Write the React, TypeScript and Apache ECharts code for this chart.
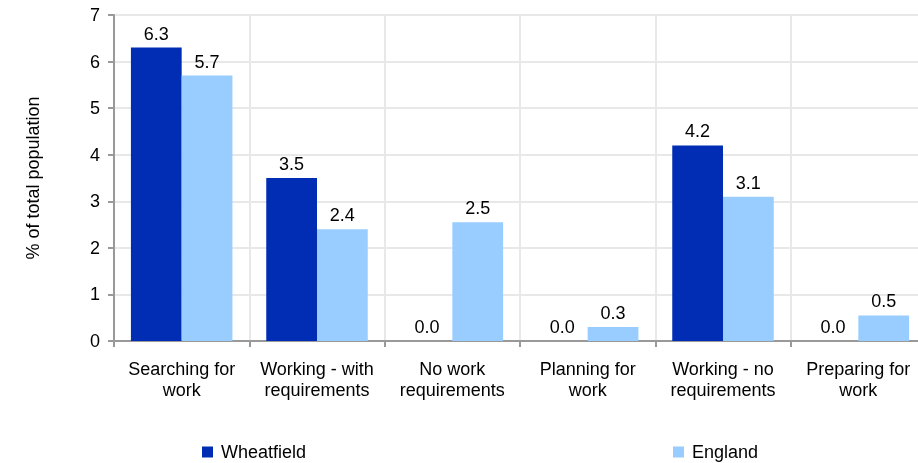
import React, { useEffect, useRef } from "react";
import * as echarts from "echarts";

const categories = [
  "Searching for\nwork",
  "Working - with\nrequirements",
  "No work\nrequirements",
  "Planning for\nwork",
  "Working - no\nrequirements",
  "Preparing for\nwork",
];
const wheatfield = [6.3, 3.5, 0.0, 0.0, 4.2, 0.0];
const england = [5.7, 2.4, 2.55, 0.3, 3.1, 0.55];
const englandLabels = [5.7, 2.4, 2.5, 0.3, 3.1, 0.5];

const FONT = "'Liberation Sans', Arial, sans-serif";
const FS = 18;

export default function App() {
  const ref = useRef<HTMLDivElement>(null);
  useEffect(() => {
    if (!ref.current) return;
    const chart = echarts.init(ref.current, null, { renderer: "svg" });
    chart.setOption({
      animation: false,
      textStyle: { fontFamily: FONT },
      legend: [
        {
          data: ["Wheatfield"],
          left: 202,
          top: 443,
          padding: 0,
          itemWidth: 11,
          itemHeight: 11,
          icon: "rect",
          itemGap: 0,
          textStyle: { fontFamily: FONT, fontSize: FS, color: "#000", padding: [0, 0, 0, 3] },
        },
        {
          data: ["England"],
          left: 673,
          top: 443,
          padding: 0,
          itemWidth: 11,
          itemHeight: 11,
          icon: "rect",
          textStyle: { fontFamily: FONT, fontSize: FS, color: "#000", padding: [0, 0, 0, 3] },
        },
      ],
      grid: { left: 114, top: 15, width: 812, height: 326, containLabel: false },
      xAxis: {
        type: "category",
        data: categories,
        axisLine: { show: true, lineStyle: { color: "#999", width: 2 } },
        axisTick: { show: true, length: 6, lineStyle: { color: "#999", width: 2 } },
        splitLine: { show: true, lineStyle: { color: "#e8e8e8", width: 2 } },
        axisLabel: {
          interval: 0,
          fontSize: FS,
          color: "#000",
          lineHeight: 21,
          margin: 17,
          fontFamily: FONT,
        },
      },
      yAxis: {
        type: "value",
        min: 0,
        max: 7,
        interval: 1,
        name: "% of total population",
        nameLocation: "middle",
        nameGap: 72,
        nameRotate: 90,
        nameTextStyle: { fontSize: FS, color: "#000", fontFamily: FONT },
        axisLine: { show: true, lineStyle: { color: "#999", width: 2 } },
        axisTick: { show: true, length: 6, lineStyle: { color: "#999", width: 2 } },
        splitLine: { show: true, lineStyle: { color: "#e8e8e8", width: 2 } },
        axisLabel: { fontSize: FS, color: "#000", margin: 14, fontFamily: FONT },
      },
      series: [
        {
          name: "Wheatfield",
          type: "bar",
          data: wheatfield,
          barGap: "0%",
          barCategoryGap: "25%",
          itemStyle: { color: "#002DB3" },
          label: {
            show: true,
            position: "top",
            distance: 5,
            fontSize: FS,
            color: "#000",
            fontFamily: FONT,
            formatter: (p: any) => Number(p.value).toFixed(1),
          },
        },
        {
          name: "England",
          type: "bar",
          data: england,
          barGap: "0%",
          barCategoryGap: "25%",
          itemStyle: { color: "#99CCFF" },
          label: {
            show: true,
            position: "top",
            distance: 5,
            fontSize: FS,
            color: "#000",
            fontFamily: FONT,
            formatter: (p: any) => englandLabels[p.dataIndex].toFixed(1),
          },
        },
      ],
    });
    return () => chart.dispose();
  }, []);
  return (
    <div
      style={{
        position: "fixed",
        left: 0,
        top: 0,
        width: 918,
        height: 463,
        overflow: "hidden",
      }}
    >
      <div ref={ref} style={{ width: 940, height: 463 }} />
    </div>
  );
}
